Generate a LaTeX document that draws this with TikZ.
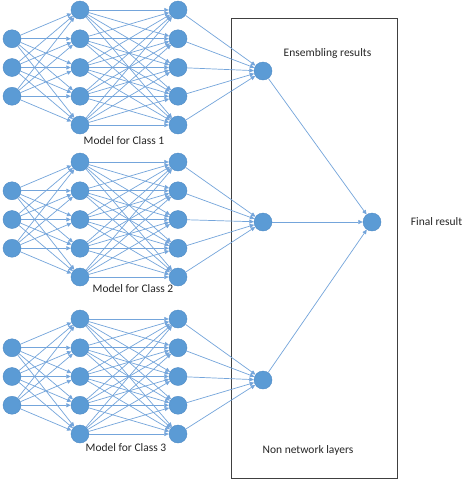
\documentclass[tikz,border=0pt]{standalone}
\usepackage{fontspec}
\setmainfont{Carlito}
\usetikzlibrary{arrows.meta}
\definecolor{nodeblue}{HTML}{5B9BD5}
\definecolor{nodeedge}{HTML}{4F8BC6}
\definecolor{linkblue}{HTML}{74A5DB}
\definecolor{txt}{HTML}{262626}
\tikzset{
  neuron/.style={circle,fill=nodeblue,draw=nodeedge,line width=0.4pt,minimum size=18pt,inner sep=0pt},
  link/.style={draw=linkblue,line width=0.7pt,-{Triangle[length=4.5pt,width=4pt]}},
  caption/.style={font=\fontsize{11.5}{13}\selectfont,text=txt,inner sep=0pt},
  layerbox/.style={draw=black!75,line width=0.7pt}
}
\begin{document}
\begin{tikzpicture}[x=1pt,y=-1pt]
\useasboundingbox (0,0) rectangle (470,480);
\fill[white] (0,0) rectangle (470,480);
% box
\node[layerbox,minimum width=166pt,minimum height=460pt,anchor=north west,inner sep=0pt] (box) at (231,18) {};
% blocks
\foreach \b/\top/\lx/\ly/\ey in {1/10/124/141/71, 2/162/133/289/222, 3/319/126/448/380}{
  \foreach \j in {1,...,5}{
    \node[neuron] (b\b h\j) at (80,{\top+(\j-1)*28.75}) {};
    \node[neuron] (b\b g\j) at (178,{\top+(\j-1)*28.75}) {};
  }
  \foreach \i in {1,2,3}{
    \node[neuron] (b\b i\i) at (12,{\top+\i*28.75}) {};
  }
  \node[neuron] (e\b) at (263,\ey) {};
  \node[caption] (lab\b) at (\lx,\ly) {Model for Class \b};
}
\node[neuron] (fin) at (372,222) {};
\foreach \b in {1,2,3}{
  \foreach \i in {1,2,3}{
    \foreach \j in {1,...,5}{
      \draw[link] (b\b i\i) -- (b\b h\j);
    }
  }
  \foreach \i in {1,...,5}{
    \foreach \j in {1,...,5}{
      \draw[link] (b\b h\i) -- (b\b g\j);
    }
    \draw[link] (b\b g\i) -- (e\b);
  }
  \draw[link] (e\b) -- (fin);
}
\node[caption] (ens) at (327.5,53) {Ensembling results};
\node[caption] (finlab) at (436.5,222) {Final result};
\node[caption] (nonnet) at (308,450) {Non network layers};
\end{tikzpicture}
\end{document}
